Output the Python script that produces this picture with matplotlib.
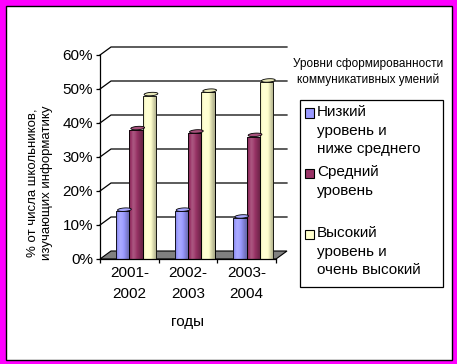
import numpy as np
import matplotlib
matplotlib.use("Agg")
import matplotlib.pyplot as plt
from matplotlib.patches import Rectangle, Polygon
from matplotlib.colors import to_rgb

plt.rcParams['font.family'] = ['Liberation Sans', 'DejaVu Sans']

categories = ["2001-\n2002", "2002-\n2003", "2003-\n2004"]
series_names = ["Низкий\nуровень и\nниже среднего", "Средний\nуровень", "Высокий\nуровень и\nочень высокий"]
low = [14, 14, 12]
mid = [38, 37, 36]
high = [48, 49, 52]
series = [low, mid, high]
colors = ["#9999FF", "#993366", "#FFFFCC"]
yticks = [0, 10, 20, 30, 40, 50, 60]
ytick_labels = ["0%", "10%", "20%", "30%", "40%", "50%", "60%"]
ylabel = "% от числа школьников,\nизучающих информатику"
xlabel = "годы"
legend_title = "Уровни сформированности\nкоммуникативных умений"

W, H = 457, 364
fig = plt.figure(figsize=(W / 100, H / 100), dpi=100)
fig.patch.set_facecolor("#FF00FF")
# inner white panel with black line
fig.patches.append(Rectangle((5.5 / W, 1 - 359.5 / H), 446 / W, 354 / H,
                             transform=fig.transFigure, facecolor="white",
                             edgecolor="black", linewidth=1.0, zorder=-5))

ax_l, ax_r, ax_t, ax_b = 100, 276, 55, 259
ax = fig.add_axes([ax_l / W, 1 - ax_b / H, (ax_r - ax_l) / W, (ax_b - ax_t) / H])
ax.set_zorder(1)
ax.set_facecolor("none")
ncat = len(categories)
ax.set_xlim(0, ncat)
ax.set_ylim(0, 60)

pxx = (ax_r - ax_l) / ncat      # pixels per x unit
pxy = (ax_b - ax_t) / 60.0      # pixels per y unit
ox, oy = 11 / pxx, 8 / pxy      # depth offset

# floor
floor = Polygon([(0, 0), (ncat, 0), (ncat + ox, oy), (ox, oy)], closed=True,
                facecolor="#808080", edgecolor="black", linewidth=0.8,
                clip_on=False, zorder=1)
ax.add_patch(floor)
# back wall gridlines
for v in yticks[1:]:
    ax.plot([0, ox, ncat + ox], [v, v + oy, v + oy], color="black",
            linewidth=0.9, clip_on=False, zorder=1)

bw = 13.3 / pxx
start = 16 / pxx
capdx, capdy = 3.5 / pxx, 3.5 / pxy


def shade(c, f):
    c = np.array(to_rgb(c))
    if f >= 1:
        return c + (1 - c) * (f - 1)
    return c * f


for j, (vals, col) in enumerate(zip(series, colors)):
    for i, v in enumerate(vals):
        x0 = i + start + j * bw
        bar = ax.bar(x0, v, width=bw, align="edge", color=col,
                     edgecolor="black", linewidth=0.6, zorder=3)[0]
        prof = np.array([0.82, 1.0, 1.18, 1.12, 1.0, 0.88, 0.76, 0.68])
        xs = np.linspace(0, 1, 40)
        fs = np.interp(xs, np.linspace(0, 1, len(prof)), prof)
        grad = np.array([shade(col, f) for f in fs])[None, :, :]
        im = ax.imshow(np.clip(grad, 0, 1), extent=(x0, x0 + bw, 0, v),
                       aspect="auto", zorder=3.1, interpolation="bilinear")
        im.set_clip_path(bar)
        ax.bar(x0, v, width=bw, align="edge", color="none",
               edgecolor="black", linewidth=0.6, zorder=3.2)
        t = np.linspace(0, 2 * np.pi, 60)
        cx, cy = x0 + bw / 2 + capdx / 2, v + capdy / 2
        pts = np.column_stack([cx + np.cos(t) * bw / 2 + np.sin(t) * capdx / 2,
                               cy + np.sin(t) * capdy / 2])
        ax.add_patch(Polygon(pts, closed=True, facecolor=shade(col, 1.15) if col != "#FFFFCC" else "#E8E8B8",
                             edgecolor="black", linewidth=0.6, zorder=3.3,
                             clip_on=False))

ax.set_xlim(0, ncat)
ax.set_ylim(0, 60)

for s in ["top", "right"]:
    ax.spines[s].set_visible(False)
for s in ["left", "bottom"]:
    ax.spines[s].set_linewidth(0.9)
    ax.spines[s].set_zorder(5)

ax.set_yticks(yticks)
ax.set_yticklabels(ytick_labels, fontsize=11)
ax.tick_params(axis="y", direction="out", length=3, width=0.9, pad=2)
ax.set_xticks(range(ncat + 1))
ax.set_xticklabels([])
ax.tick_params(axis="x", which="major", direction="out", length=3, width=0.9)
ax.set_xticks([i + 0.5 for i in range(ncat)], minor=True)
ax.set_xticklabels(categories, minor=True, fontsize=11, linespacing=1.6)
ax.tick_params(axis="x", which="minor", length=0, pad=5)

fig.text(187 / W, 1 - 322 / H, xlabel, fontsize=11, ha="center", va="center")
fig.text(40 / W, 1 - 183 / H, ylabel, fontsize=9.5, rotation=90, ha="center",
         va="center", multialignment="center", linespacing=1.25)
fig.text(368 / W, 1 - 72 / H, legend_title, fontsize=8.5, ha="center",
         va="center", multialignment="center", linespacing=1.3)

# legend box
fig.patches.append(Rectangle((300 / W, 1 - 287 / H), 143 / W, 187 / H,
                             transform=fig.transFigure, facecolor="white",
                             edgecolor="black", linewidth=0.9, zorder=2))
entry_y = [113, 173, 234]
for name, col, ey in zip(series_names, colors, entry_y):
    fig.patches.append(Rectangle((305 / W, 1 - (ey + 4.5) / H), 9 / W, 9 / H,
                                 transform=fig.transFigure, facecolor=col,
                                 edgecolor="black", linewidth=0.8, zorder=3))
    fig.text(317 / W, 1 - (ey - 8) / H, name, fontsize=11, ha="left",
             va="top", linespacing=1.42, zorder=4)

fig.savefig("out.png", dpi=100, facecolor=fig.get_facecolor())
